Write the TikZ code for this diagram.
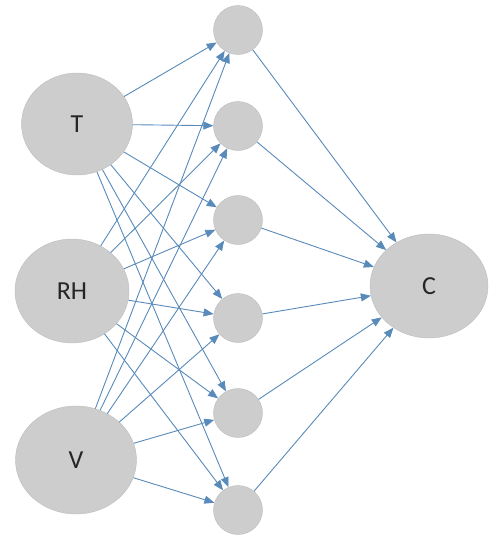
\documentclass[tikz,border=0pt]{standalone}
\usepackage{fontspec}
\setmainfont{Carlito}
\usepackage{tikz}
\usetikzlibrary{arrows.meta, shapes.geometric}
\usepackage{xcolor}
\definecolor{nodegray}{RGB}{205, 205, 205}
\definecolor{nodeedge}{RGB}{188, 188, 188}
\definecolor{linkblue}{RGB}{88, 138, 186}

\begin{document}
\begin{tikzpicture}[x=1pt, y=-1pt,
    unit/.style={ellipse, draw=nodeedge, fill=nodegray, inner sep=0pt,
      text=black!85, font=\fontsize{26}{30}\selectfont},
    link/.style={-{Triangle[length=10pt, width=8pt]}, linkblue, line width=0.9pt}]
        \useasboundingbox (0,0) rectangle (490,538);

        % Input nodes
        \node[unit, minimum width=111, minimum height=102] (T) at (77,124) {T};
        \node[unit, minimum width=114, minimum height=104] (RH) at (72,291) {RH};
        \node[unit, minimum width=121, minimum height=108] (V) at (76,460) {V};

        % Hidden nodes
        \foreach \y [count=\i] in {30,126,220,318,413,510}
          \node[unit, minimum width=49, minimum height=49] (h\i) at (238,\y) {};

        % Output node
        \node[unit, minimum width=118, minimum height=104] (C) at (429,286) {C};

        % Input to hidden
        \foreach \src in {T,RH,V}
          \foreach \i in {1,...,6}
            \draw[link] (\src) -- (h\i);

        % Hidden to output
        \foreach \i in {1,...,6}
          \draw[link] (h\i) -- (C);
      \end{tikzpicture}
\end{document}
